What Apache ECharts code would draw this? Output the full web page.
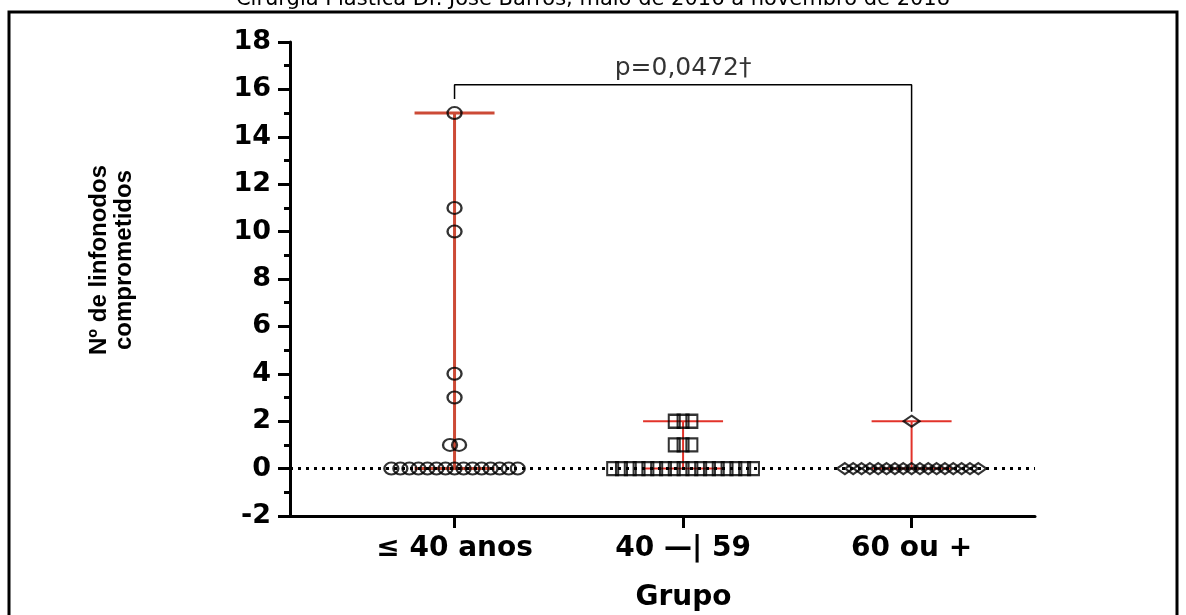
<!DOCTYPE html>
<html>
<head>
<meta charset="utf-8">
<script src="https://cdn.jsdelivr.net/npm/echarts@6.0.0/dist/echarts.min.js"></script>
<style>
html,body{margin:0;padding:0;background:#ffffff;}
#chart{width:1186px;height:615px;}
</style>
</head>
<body>
<div id="chart"></div>
<script>
// ---------- data ----------
const titleText = 'Cirurgia Plástica Dr. José Barros, maio de 2016 a novembro de 2018';
const categories = ['≤ 40 anos', '40 —| 59', '60 ou +'];
const groupPositions = [1, 2, 3];
const group1Values = [0,0,0,0,0,0,0,0,0,0,0,0,0,0,0, 1,1, 3, 4, 10, 11, 15];
const group2Values = [0,0,0,0,0,0,0,0,0,0,0,0,0,0,0,0,0, 1,1,1, 2,2,2];
const group3Values = [0,0,0,0,0,0,0,0,0,0,0,0,0,0,0,0,0, 2];
const yAxisName = 'Nº de linfonodos\ncomprometidos';
const xAxisName = 'Grupo';
const yMin = -2, yMax = 18, yInterval = 2;
const pValueLabel = 'p=0,0472†';
const bracketTop = 16.2, bracketLeftEnd = 15.6, bracketRightEnd = 2.4;

// ---------- layout helpers ----------
const xMin = 0.28, xMax = 3.54;
const capHalf = 0.175;
const groups = [
  {values: group1Values, pos: groupPositions[0], symbol: 'circle', size: [14, 12], step: 0.0395, lineW: 3, lineColor: '#cc4a36'},
  {values: group2Values, pos: groupPositions[1], symbol: 'rect', size: [11, 13], step: 0.0385, lineW: 2, lineColor: '#e2332a'},
  {values: group3Values, pos: groupPositions[2], symbol: 'diamond', size: [16, 11], step: 0.0365, lineW: 2, lineColor: '#e2332a'}
];

function swarm(values, center, step) {
  const counts = {};
  values.forEach(v => { counts[v] = (counts[v] || 0) + 1; });
  const seen = {};
  return values.map(v => {
    seen[v] = (seen[v] === undefined) ? 0 : seen[v] + 1;
    return [center + (seen[v] - (counts[v] - 1) / 2) * step, v];
  });
}

const series = [];
// zero dotted reference line
series.push({
  type: 'line', data: [], silent: true, z: 1,
  markLine: {
    silent: true, symbol: 'none', animation: false,
    label: {show: false},
    lineStyle: {color: '#000', type: [3, 5], width: 3},
    data: [{yAxis: 0}]
  }
});
// range lines (min-max) with caps
groups.forEach(g => {
  const lo = Math.min.apply(null, g.values), hi = Math.max.apply(null, g.values);
  const segs = [
    [[g.pos, lo], [g.pos, hi]],
    [[g.pos - capHalf, hi], [g.pos + capHalf, hi]],
    [[g.pos - capHalf, lo], [g.pos + capHalf, lo]]
  ];
  segs.forEach(s => series.push({
    type: 'line', data: s, showSymbol: false, silent: true, z: 2,
    lineStyle: {color: g.lineColor, width: g.lineW}
  }));
});
// points
groups.forEach(g => series.push({
  type: 'scatter', data: swarm(g.values, g.pos, g.step), z: 5,
  symbol: g.symbol, symbolSize: g.size,
  itemStyle: {color: 'rgba(0,0,0,0)', borderColor: '#000', borderWidth: 2.2}
}));
// significance bracket
series.push({
  type: 'line', showSymbol: false, silent: true, z: 3,
  data: [[groupPositions[0], bracketLeftEnd], [groupPositions[0], bracketTop], [groupPositions[2], bracketTop], [groupPositions[2], bracketRightEnd]],
  lineStyle: {color: '#000', width: 1.5}
});
series.push({
  type: 'scatter', symbolSize: 0, silent: true, z: 6,
  data: [[groupPositions[1], bracketTop]],
  label: {show: true, position: 'top', distance: 4, formatter: pValueLabel,
    fontFamily: 'DejaVu Sans', fontSize: 25, color: '#000'}
});

const boldFont = 'DejaVu Sans';
const option = {
  animation: false,
  backgroundColor: '#ffffff',
  grid: {left: 290, top: 42, right: 151, bottom: 99, containLabel: false, outerBoundsMode: 'none'},
  xAxis: {
    type: 'value', min: xMin, max: xMax,
    axisLine: {show: true, onZero: false, lineStyle: {color: '#000', width: 3}},
    axisTick: {show: true, customValues: groupPositions, length: 12, lineStyle: {color: '#000', width: 3}},
    axisLabel: {show: true, customValues: groupPositions, margin: 19,
      formatter: v => categories[groupPositions.indexOf(Math.round(v))] || '',
      fontFamily: boldFont, fontWeight: 'bold', fontSize: 28, color: '#000'},
    splitLine: {show: false},
    name: xAxisName, nameLocation: 'middle', nameGap: 68,
    nameTextStyle: {fontFamily: boldFont, fontWeight: 'bold', fontSize: 28, color: '#000', padding: [0, 0, 0, 42]}
  },
  yAxis: {
    type: 'value', min: yMin, max: yMax, interval: yInterval,
    axisLine: {show: true, onZero: false, lineStyle: {color: '#000', width: 3}},
    axisTick: {show: true, length: 12, lineStyle: {color: '#000', width: 3}},
    minorTick: {show: true, splitNumber: 2, length: 6, lineStyle: {color: '#000', width: 3}},
    axisLabel: {margin: 19, fontFamily: boldFont, fontWeight: 'bold', fontSize: 27, color: '#000'},
    splitLine: {show: false}
  },
  graphic: [
    {type: 'rect', silent: true, shape: {x: 9, y: 12, width: 1168, height: 700},
      style: {fill: 'none', stroke: '#000', lineWidth: 3}},
    {type: 'text', silent: true, x: 593, y: 10,
      style: {text: titleText, fontFamily: 'DejaVu Sans', fontSize: 21, fill: '#000', align: 'center', verticalAlign: 'bottom'}},
    {type: 'text', silent: true, x: 112, y: 260, rotation: Math.PI / 2,
      style: {text: yAxisName, fontFamily: 'Liberation Sans Narrow, Liberation Sans', fontWeight: 'bold', fontSize: 24, lineHeight: 25,
        fill: '#000', align: 'center', verticalAlign: 'middle'}}
  ],
  series: series
};

const chart = echarts.init(document.getElementById('chart'));
chart.setOption(option);
</script>
</body>
</html>
